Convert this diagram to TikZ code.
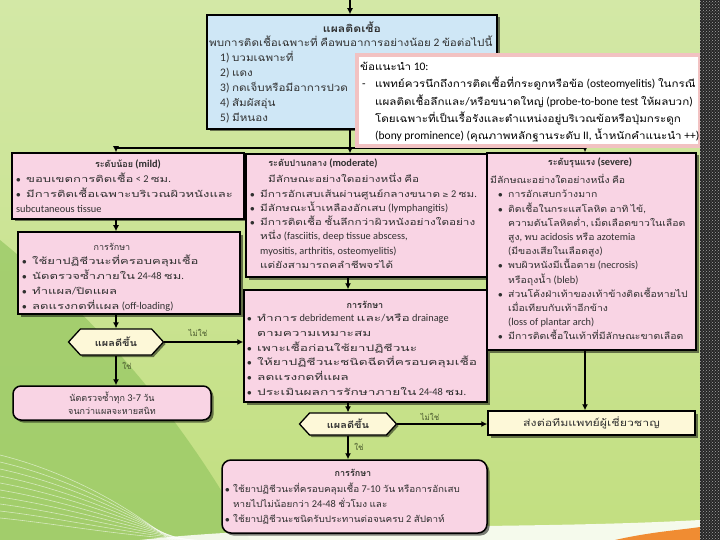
\documentclass[tikz,border=0pt]{standalone}
\usepackage{fontspec}
\setmainfont{Carlito}[Scale=1.15]
\newfontfamily\tfN[Script=Thai]{Loma}
\newfontfamily\tfA[Script=Thai,FakeStretch=1.1]{Loma}
\newfontfamily\tfB[Script=Thai,FakeStretch=1.16]{Loma}
\newfontfamily\tfC[Script=Thai,FakeStretch=1.22]{Loma}
\newfontfamily\tfD[Script=Thai,FakeStretch=1.3]{Loma}
\newfontfamily\tfE[Script=Thai,FakeStretch=1.36]{Loma}
\newfontfamily\tfF[Script=Thai,FakeStretch=1.45]{Loma}
\newfontfamily\tfG[Script=Thai,FakeStretch=1.52]{Loma}
\newfontfamily\symf{DejaVu Sans}
\def\curthai{\tfN}
\XeTeXinterchartokenstate=1
\newXeTeXintercharclass\thcls
\count255="0E00
\loop\XeTeXcharclass\count255=\thcls\ifnum\count255<"0E7F\advance\count255 by 1\repeat
\XeTeXinterchartoks 0 \thcls = {\curthai}
\XeTeXinterchartoks 4095 \thcls = {\curthai}
\XeTeXinterchartoks \thcls 0 = {\rmfamily}
\XeTeXinterchartoks \thcls 4095 = {\rmfamily}
\usetikzlibrary{shapes.symbols,shadows,arrows.meta,patterns}
\definecolor{bgtop}{HTML}{D3E8A6}
\definecolor{bgbot}{HTML}{C2DF80}
\definecolor{bgdark}{HTML}{98C864}
\definecolor{pinkbox}{HTML}{F9D4E4}
\definecolor{bluebox}{HTML}{CFE7F6}
\definecolor{creambox}{HTML}{FDF8D8}
\definecolor{noteline}{HTML}{F2C2C2}
\definecolor{txtc}{HTML}{303030}
\definecolor{lblc}{HTML}{4A5A2E}
\definecolor{orng}{HTML}{F08C32}
\newcommand\mybul{\makebox[10pt][l]{$\bullet$}}
\newcommand\myind{\hspace*{10pt}}
\newcommand\mystrut{\rule{0pt}{10pt}}
\begin{document}
\begin{tikzpicture}[x=1pt,y=-1pt,
  box/.style={draw=black, line width=1.5pt, rectangle, inner sep=0pt,
    drop shadow={shadow xshift=2.5pt,shadow yshift=-2.5pt,opacity=0.5,fill=black}},
  hexa/.style={signal, signal to=west and east, signal pointer angle=95,
    draw=black, line width=1.3pt, fill=creambox, inner sep=0pt,
    font={\def\curthai{\tfC}\rmfamily\bfseries\fontsize{9}{11}\selectfont}, text=txtc,
    drop shadow={shadow xshift=2pt,shadow yshift=-2pt,opacity=0.5,fill=black}},
  tx/.style={anchor=north west, inner sep=0pt, align=left, text=txtc},
  ttl/.style={anchor=center, inner sep=0pt, text=txtc,
    font=\rmfamily\bfseries\fontsize{9}{11}\selectfont},
  lbl/.style={inner sep=0pt, text=lblc, font=\rmfamily\fontsize{8}{10}\selectfont},
  arr/.style={draw=black, line width=1.1pt, -{Latex[length=6pt,width=6pt]}},
  ln/.style={draw=black, line width=1.1pt}]
\useasboundingbox (0,0) rectangle (720,540);
% background
\fill[top color=bgtop, bottom color=bgbot] (0,0) rectangle (720,540);
\fill[bgdark, opacity=0.75] (0,240) .. controls (110,330) and (190,430) .. (250,540) -- (0,540) -- cycle;
\foreach \k in {0,...,9}{
  \draw[white, opacity=0.55, line width=0.6pt] (0,{455+\k*7}) .. controls (60,{470+\k*6}) and (120,{500+\k*4}) .. ({170+\k*3},540);
}
\fill[white, opacity=0.85] (140,540) .. controls (300,522) and (520,530) .. (700,520) -- (700,540) -- cycle;
\fill[orng] (615,540) .. controls (650,532) and (680,530) .. (700,527) -- (700,540) -- cycle;

% boxes
\node[box, fill=bluebox, minimum width=290pt, minimum height=114pt] (topbox) at (352,72) {};
\node[box, fill=pinkbox, minimum width=232pt, minimum height=66pt] (mild) at (128,186) {};
\node[box, fill=pinkbox, minimum width=222pt, minimum height=82pt] (mildtx) at (129,273) {};
\node[hexa, minimum width=95pt, minimum height=26pt] (hexa1) at (116,342) {แผลดีขึ้น};
\node[box, fill=pinkbox, rounded corners=8pt, minimum width=198pt, minimum height=34pt,
  align=center, text=txtc, font=\rmfamily\fontsize{9}{13}\selectfont] (recheck) at (112,403)
  {นัดตรวจซ้ำทุก 3-7 วัน\\จนกว่าแผลจะหายสนิท};
\node[box, fill=pinkbox, minimum width=241pt, minimum height=123pt] (moderate) at (366.5,215.5) {};
\node[box, fill=pinkbox, minimum width=243pt, minimum height=112pt] (modtx) at (365.5,346) {};
\node[hexa, minimum width=97pt, minimum height=22pt] (hexa2) at (348,424) {แผลดีขึ้น};
\node[box, fill=creambox, minimum width=207pt, minimum height=24pt, text=txtc,
  font={\def\curthai{\tfD}\rmfamily\fontsize{9.5}{11}\selectfont}] (refer) at (591.5,423) {ส่งต่อทีมแพทย์ผู้เชี่ยวชาญ};
\node[box, fill=pinkbox, minimum width=209pt, minimum height=197pt] (severe) at (591.5,251.5) {};
\node[box, fill=pinkbox, rounded corners=9pt, minimum width=265pt, minimum height=73pt] (final) at (354.5,496.5) {};

% texts
\node[ttl, font={\def\curthai{\tfC}\rmfamily\bfseries\fontsize{10}{12}\selectfont}] (toptitle) at (352,27) {แผลติดเชื้อ};
\node[tx, font={\def\curthai{\tfB}\rmfamily\fontsize{10}{15}\selectfont}] (toptext) at (209,35.5) {\mystrut พบการติดเชื้อเฉพาะที่ คือพบอาการอย่างน้อย 2 ข้อต่อไปนี้\\
\hspace*{11pt}1) บวมเฉพาะที่\\
\hspace*{11pt}2) แดง\\
\hspace*{11pt}3) กดเจ็บหรือมีอาการปวด\\
\hspace*{11pt}4) สัมผัสอุ่น\\
\hspace*{11pt}5) มีหนอง};

\node[ttl] (mildtitle) at (128,164) {ระดับน้อย (mild)};
\node[tx, font={\def\curthai{\tfF}\rmfamily\fontsize{9}{15}\selectfont}] (mildtext) at (16,172) {\mystrut\mybul ขอบเขตการติดเชื้อ < 2 ซม.\\
\mybul มีการติดเชื้อเฉพาะบริเวณผิวหนังและ\\
subcutaneous tissue};

\node[ttl, font=\rmfamily\fontsize{9}{11}\selectfont] (mildtxtitle) at (112,247) {การรักษา};
\node[tx, font={\def\curthai{\tfF}\rmfamily\fontsize{9}{15}\selectfont}] (mildtxtext) at (22,254.5) {\mystrut\mybul ใช้ยาปฏิชีวนะที่ครอบคลุมเชื้อ\\
\mybul นัดตรวจซ้ำภายใน 24-48 ชม.\\
\mybul ทำแผล/ปิดแผล\\
\mybul ลดแรงกดที่แผล (off-loading)};

\node[ttl] (modtitle) at (323,163) {ระดับปานกลาง (moderate)};
\node[tx, font={\def\curthai{\tfD}\rmfamily\fontsize{9}{14.3}\selectfont}] (modtext) at (250,172.5) {\mystrut\hspace*{18pt}มีลักษณะอย่างใดอย่างหนึ่ง คือ\\
\mybul มีการอักเสบเส้นผ่านศูนย์กลางขนาด {\symf\fontsize{7.5}{9}\selectfont ≥} 2 ซม.\\
\mybul มีลักษณะน้ำเหลืองอักเสบ (lymphangitis)\\
\mybul มีการติดเชื้อ ชั้นลึกกว่าผิวหนังอย่างใดอย่าง\\
\myind หนึ่ง (fasciitis, deep tissue abscess,\\
\myind myositis, arthritis, osteomyelitis)\\
\myind แต่ยังสามารถคลำชีพจรได้};

\node[ttl] (modtxtitle) at (365,305) {การรักษา};
\node[tx, font={\def\curthai{\tfG}\rmfamily\fontsize{9}{14.7}\selectfont}] (modtxtext) at (247,311.5) {\mystrut\mybul ทำการ debridement และ/หรือ drainage\\
\myind ตามความเหมาะสม\\
\mybul เพาะเชื้อก่อนใช้ยาปฏิชีวนะ\\
\mybul ให้ยาปฏิชีวนะชนิดฉีดที่ครอบคลุมเชื้อ\\
\mybul ลดแรงกดที่แผล\\
\mybul ประเมินผลการรักษาภายใน 24-48 ชม.};

\node[ttl] (sevtitle) at (590,163) {ระดับรุนแรง (severe)};
\node[tx, font={\def\curthai{\tfB}\rmfamily\fontsize{9}{14.2}\selectfont}] (sevtext) at (490,173.5) {\mystrut มีลักษณะอย่างใดอย่างหนึ่ง คือ\\
\hspace*{8pt}\mybul การอักเสบกว้างมาก\\
\hspace*{8pt}\mybul ติดเชื้อในกระแสโลหิต อาทิ ไข้,\\
\hspace*{18pt}ความดันโลหิตต่ำ, เม็ดเลือดขาวในเลือด\\
\hspace*{18pt}สูง, พบ acidosis หรือ azotemia\\
\hspace*{18pt}(มีของเสียในเลือดสูง)\\
\hspace*{8pt}\mybul พบผิวหนังมีเนื้อตาย (necrosis)\\
\hspace*{18pt}หรือถุงน้ำ (bleb)\\
\hspace*{8pt}\mybul ส่วนโค้งฝ่าเท้าของเท้าข้างติดเชื้อหายไป\\
\hspace*{18pt}เมื่อเทียบกับเท้าอีกข้าง\\
\hspace*{18pt}(loss of plantar arch)\\
\hspace*{8pt}\mybul มีการติดเชื้อในเท้าที่มีลักษณะขาดเลือด};

\node[ttl] (fintitle) at (353,473) {การรักษา};
\node[tx, font={\def\curthai{\tfA}\rmfamily\fontsize{9}{15}\selectfont}] (fintext) at (225,482.5) {\mystrut\makebox[8pt][l]{$\bullet$}ใช้ยาปฏิชีวนะที่ครอบคลุมเชื้อ 7-10 วัน หรือการอักเสบ\\
\hspace*{8pt}หายไปไม่น้อยกว่า 24-48 ชั่วโมง และ\\
\makebox[8pt][l]{$\bullet$}ใช้ยาปฏิชีวนะชนิดรับประทานต่อจนครบ 2 สัปดาห์};

% connectors
\coordinate (topin) at (350,0);
\coordinate (J) at (350,148);
\coordinate (sevax) at (585,148);
\draw[arr] (topin) -- (topin |- topbox.north);
\draw[ln] (topbox.south -| J) -- (J);
\draw[arr] (J) -| (mild.north -| hexa1);
\draw[arr] (J) -- (J |- moderate.north);
\draw[arr] (J) -| (severe.north -| sevax);
\draw[arr] (mild.south -| hexa1) -- (mildtx.north -| hexa1);
\draw[arr] (mildtx.south -| hexa1) -- (hexa1.north);
\draw[arr] (hexa1.south) -- (recheck.north -| hexa1);
\draw[arr] (hexa1.east) -- (hexa1.east -| modtx.west);
\draw[arr] (moderate.south -| hexa2) -- (modtx.north -| hexa2);
\draw[arr] (modtx.south -| hexa2) -- (hexa2.north);
\draw[arr] (hexa2.east) -- (hexa2.east -| refer.west);
\draw[arr] (hexa2.south) -- (final.north -| hexa2);
\draw[arr] (severe.south -| sevax) -- (refer.north -| sevax);
\node[lbl] (no1) at (198,333) {ไม่ใช่};
\node[lbl] (yes1) at (127,366) {ใช่};
\node[lbl] (no2) at (430,417) {ไม่ใช่};
\node[lbl] (yes2) at (359,447) {ใช่};

% note
\node[draw=noteline, line width=3.5pt, fill=white, minimum width=343pt, minimum height=91pt, inner sep=0pt] (note) at (528.5,100.5) {};
\node[tx, text=black, font={\def\curthai{\tfB}\rmfamily\fontsize{10}{17.3}\selectfont}] (notetext) at (360,60.5) {\mystrut ข้อแนะนำ 10:\\
\makebox[15pt][l]{\hspace*{2pt}-}แพทย์ควรนึกถึงการติดเชื้อที่กระดูกหรือข้อ (osteomyelitis) ในกรณี\\
\hspace*{15pt}แผลติดเชื้อลึกและ/หรือขนาดใหญ่ (probe-to-bone test ให้ผลบวก)\\
\hspace*{15pt}โดยเฉพาะที่เป็นเรื้อรังและตำแหน่งอยู่บริเวณข้อหรือปุ่มกระดูก\\
\hspace*{15pt}(bony prominence) (คุณภาพหลักฐานระดับ II, น้ำหนักคำแนะนำ ++)};

% right strip
\fill[black!85] (700,0) rectangle (720,540);
\fill[pattern=crosshatch dots, pattern color=gray!70] (700,0) rectangle (720,540);
\end{tikzpicture}
\end{document}
